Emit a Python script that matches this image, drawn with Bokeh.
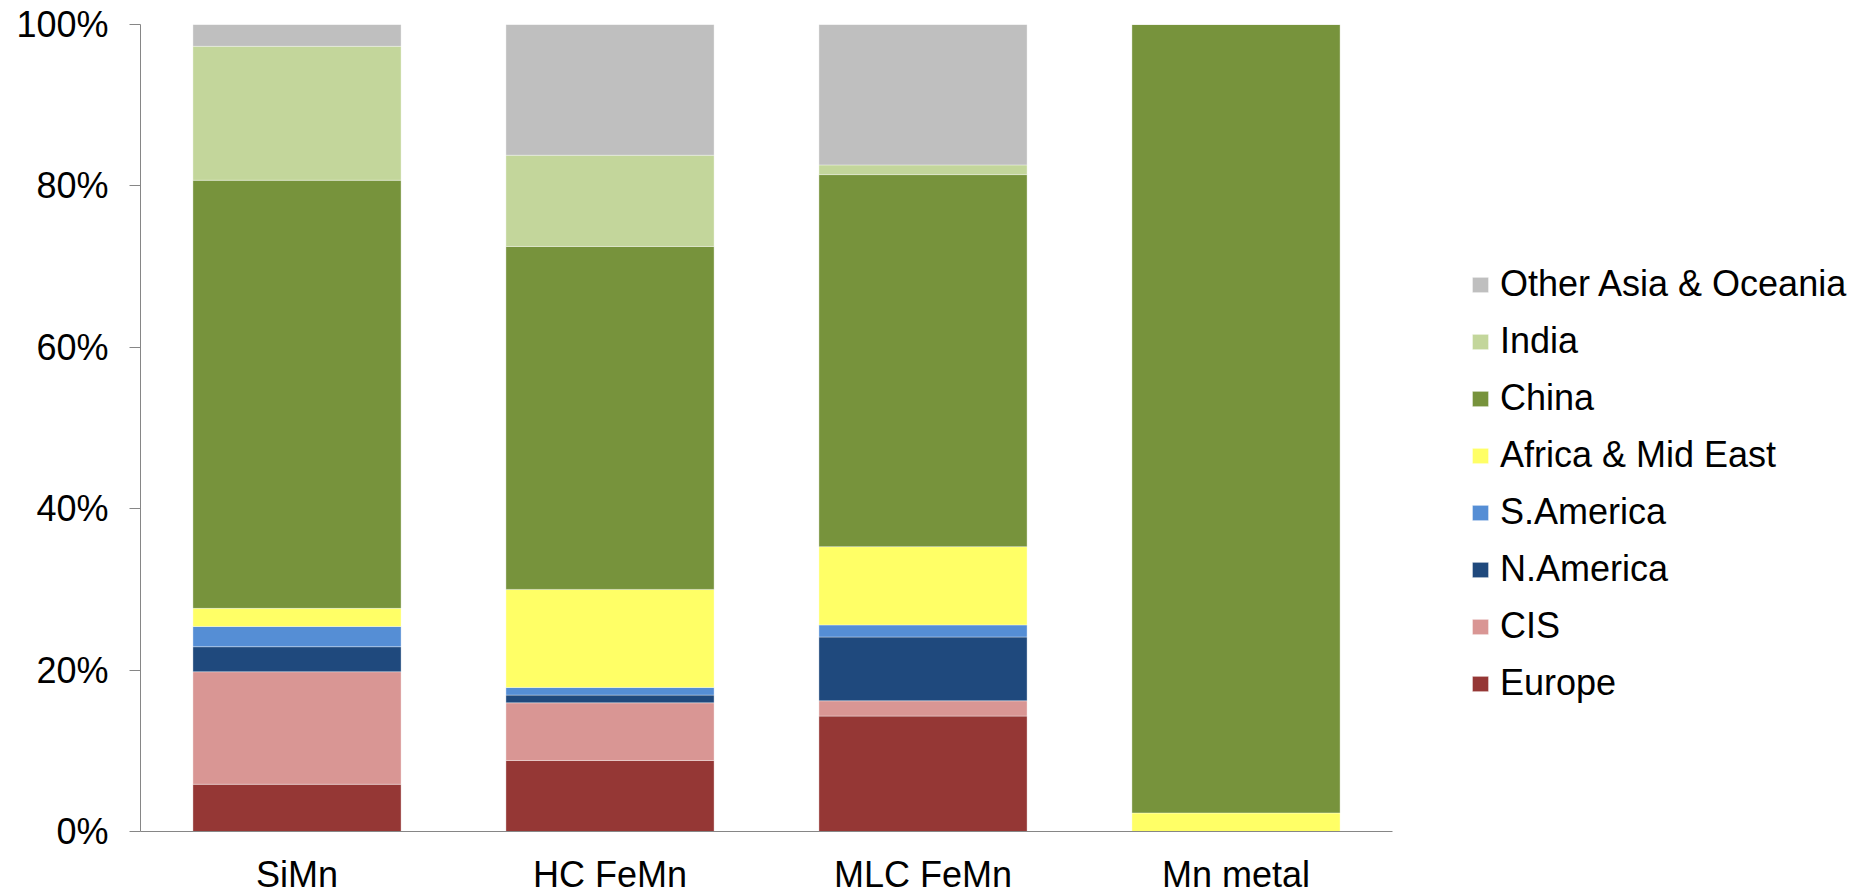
from bokeh.plotting import figure
from bokeh.models import ColumnDataSource, FactorRange, Range1d, Legend, LegendItem, FixedTicker, CustomJSTickFormatter
from bokeh.embed import file_html
from bokeh.resources import INLINE

categories = ["SiMn", "HC FeMn", "MLC FeMn", "Mn metal"]
regions = ["Europe", "CIS", "N.America", "S.America", "Africa & Mid East", "China", "India", "Other Asia & Oceania"]
colors = ["#953735", "#D99694", "#1F497D", "#558ED5", "#FFFF66", "#77933C", "#C3D69B", "#BFBFBF"]

europe = [5.85, 8.8, 14.3, 0.0]
cis = [13.95, 7.15, 1.9, 0.0]
n_america = [3.1, 0.95, 7.9, 0.0]
s_america = [2.5, 0.95, 1.5, 0.0]
africa_mid_east = [2.25, 12.15, 9.7, 2.3]
china = [53.05, 42.5, 46.1, 97.7]
india = [16.6, 11.3, 1.2, 0.0]
other_asia = [2.7, 16.2, 17.4, 0.0]

y_ticks = [0, 20, 40, 60, 80, 100]

series = [europe, cis, n_america, s_america, africa_mid_east, china, india, other_asia]
data = {"cat": categories}
for name, vals in zip(regions, series):
    data[name] = vals
source = ColumnDataSource(data)

FONT = "Liberation Sans"

p = figure(
    x_range=FactorRange(*categories, range_padding=0),
    y_range=Range1d(0, 100),
    frame_width=1252, frame_height=807,
    min_border_left=140, min_border_right=0, min_border_top=24, min_border_bottom=62,
    output_backend="svg", toolbar_location=None,
)

renderers = p.vbar_stack(regions, x="cat", width=0.665, source=source,
                         color=colors, line_color="white", line_alpha=0.35, line_width=1)

p.xgrid.grid_line_color = None
p.ygrid.grid_line_color = None
p.outline_line_color = None
p.background_fill_color = "white"
p.border_fill_color = "white"

p.yaxis.ticker = FixedTicker(ticks=y_ticks)
p.yaxis.formatter = CustomJSTickFormatter(code="return tick.toFixed(0) + '%';")
p.yaxis.axis_line_color = "#868686"
p.yaxis.major_tick_line_color = "#868686"
p.yaxis.major_tick_out = 11
p.yaxis.major_tick_in = 0
p.yaxis.minor_tick_line_color = None
p.yaxis.major_label_standoff = 21
p.yaxis.major_label_text_font = FONT
p.yaxis.major_label_text_font_size = "36px"
p.yaxis.major_label_text_color = "black"

p.xaxis.axis_line_color = "#868686"
p.xaxis.major_tick_line_color = None
p.xaxis.major_tick_out = 0
p.xaxis.major_tick_in = 0
p.xaxis.minor_tick_line_color = None
p.xaxis.major_label_standoff = 22
p.xaxis.major_label_text_font = FONT
p.xaxis.major_label_text_font_size = "36px"
p.xaxis.major_label_text_color = "black"

items = [LegendItem(label=name, renderers=[r]) for name, r in zip(regions, renderers)]
items.reverse()
legend = Legend(items=items, location=(78, 127), orientation="vertical",
                glyph_width=20, glyph_height=19, label_standoff=10,
                label_height=40, spacing=15, padding=0, margin=0,
                label_text_font=FONT, label_text_font_size="36px", label_text_color="black",
                border_line_alpha=0, background_fill_alpha=0)
p.add_layout(legend, "right")

open("out.html", "w").write(file_html(p, INLINE))
